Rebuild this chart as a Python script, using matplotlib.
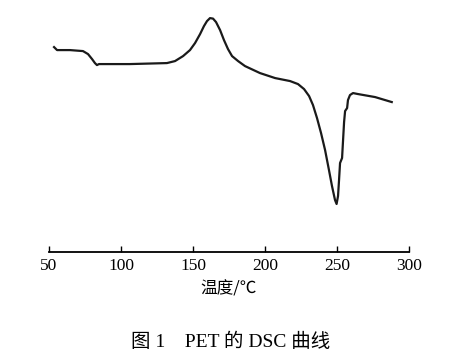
import matplotlib
matplotlib.use("Agg")
import matplotlib.pyplot as plt

# DSC curve of PET (heat flow in arbitrary units)
temp = [53.5, 55.6, 64.6, 73.6, 77.1, 79.9, 81.9, 83.3, 84.7, 88.9, 106.0,
        131.9, 137.5, 143.1, 147.9, 151.4, 154.9, 157.6, 159.7, 161.8, 163.9,
        166.0, 168.8, 171.5, 174.3, 177.1, 181.3, 186.1, 196.5, 207.0,
        217.4, 222.9, 227.1, 230.6, 233.3, 236.1, 238.9, 241.7, 244.4, 246.5,
        248.6, 249.7, 250.7, 251.4, 252.1, 253.5, 254.2, 254.9, 255.6, 257.0,
        257.6, 259.0, 261.1, 264.6, 276.4, 288.0]
heat = [20.3, 20.0, 20.0, 19.9, 19.6, 19.1, 18.7, 18.5, 18.6, 18.6, 18.6,
        18.7, 18.9, 19.4, 20.0, 20.7, 21.6, 22.4, 22.9, 23.2, 23.15,
        22.8, 22.0, 21.0, 20.1, 19.4, 18.9, 18.4, 17.7, 17.2,
        16.9, 16.6, 16.1, 15.4, 14.5, 13.2, 11.7, 10.0, 8.0, 6.4,
        5.0, 4.6, 5.4, 7.0, 8.7, 9.2, 11.0, 12.8, 13.9, 14.2,
        15.0, 15.5, 15.7, 15.6, 15.3, 14.8]
xticks = [50, 100, 150, 200, 250, 300]

plt.rcParams['font.family'] = ['Liberation Serif', 'Noto Sans CJK SC']

fig = plt.figure(figsize=(4.68, 3.61), dpi=100)
ax = fig.add_axes([0.1047, 0.302, 0.7693, 0.67])
ax.plot(temp, heat, color='#1a1a1a', lw=1.6, solid_joinstyle='round')

ax.set_xlim(50, 300)
ax.set_ylim(-0.2, 24)
for s in ['top', 'left', 'right']:
	ax.spines[s].set_visible(False)
ax.spines['bottom'].set_linewidth(1.3)
ax.set_yticks([])
ax.set_xticks(xticks)
ax.tick_params(axis='x', direction='in', length=4, width=1, labelsize=12.5, pad=4)
ax.set_xlabel("温度/℃", fontsize=12, family=['Noto Sans CJK SC'], labelpad=5)

fig.text(0.493, 0.052, "图 1    PET 的 DSC 曲线", ha='center', va='center', fontsize=14,
         family=['Liberation Serif', 'Noto Sans CJK SC'])

plt.savefig("out.png", dpi=100)
